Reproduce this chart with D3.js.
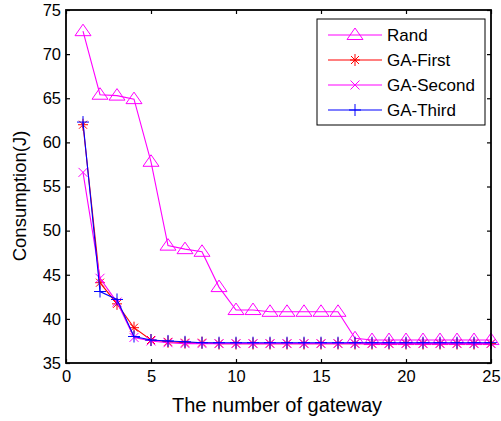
<!DOCTYPE html>
<html>
<head>
<meta charset="utf-8">
<script src="https://cdn.jsdelivr.net/npm/d3@7"></script>
<style>
body { margin: 0; background: #fff; }
text { font-family: "Liberation Sans", Arial, sans-serif; }
</style>
</head>
<body>
<svg id="chart" width="501" height="421"></svg>
<script>
// gateway count on the x axis
var gateways = d3.range(1, 26);
var rand = [72.6, 65.4, 65.3, 64.9, 57.8, 48.3, 47.9, 47.6, 43.6, 41.0, 41.0, 40.8, 40.8, 40.8, 40.8, 40.8,
    37.8, 37.6, 37.6, 37.6, 37.6, 37.6, 37.6, 37.6, 37.6];
var gaFirst = [62.0, 44.1, 41.7, 39.0, 37.6, 37.4, 37.3, 37.3, 37.2, 37.2, 37.2, 37.2, 37.2, 37.2, 37.2, 37.2,
    37.2, 37.2, 37.2, 37.2, 37.2, 37.2, 37.2, 37.2, 37.2];
var gaSecond = [56.6, 44.6, 41.9, 37.9, 37.5, 37.3, 37.2, 37.2, 37.2, 37.2, 37.2, 37.2, 37.2, 37.2, 37.2, 37.2,
    37.2, 37.2, 37.2, 37.2, 37.2, 37.2, 37.2, 37.2, 37.2];
var gaThird = [62.3, 43.1, 42.2, 38.0, 37.6, 37.5, 37.4, 37.3, 37.3, 37.3, 37.3, 37.3, 37.3, 37.3, 37.3, 37.3,
    37.3, 37.3, 37.3, 37.3, 37.3, 37.3, 37.3, 37.3, 37.3];
var xTicks = [0, 5, 10, 15, 20, 25];
var yTicks = [35, 40, 45, 50, 55, 60, 65, 70, 75];
var seriesNames = ["Rand", "GA-First", "GA-Second", "GA-Third"];

var series = [
    { name: seriesNames[0], values: rand, color: "#ff00ff", marker: "triangle" },
    { name: seriesNames[1], values: gaFirst, color: "#ff0000", marker: "star" },
    { name: seriesNames[2], values: gaSecond, color: "#ff00ff", marker: "cross" },
    { name: seriesNames[3], values: gaThird, color: "#0000ff", marker: "plus" }
];

var svg = d3.select("#chart");
var pLeft = 66, pRight = 491, pTop = 10, pBottom = 363;

var x = d3.scaleLinear().domain([0, 25]).range([pLeft, pRight]);
var y = d3.scaleLinear().domain([35, 75]).range([pBottom, pTop]);

// draw a marker path centred at 0,0
function markerPath(kind) {
    var p = d3.path();
    if (kind === "triangle") {
        p.moveTo(0, -7); p.lineTo(8, 4.5); p.lineTo(-8, 4.5); p.closePath();
    } else if (kind === "star") {
        p.moveTo(-5, 0); p.lineTo(5, 0);
        p.moveTo(0, -6); p.lineTo(0, 6);
        p.moveTo(-4, -4); p.lineTo(4, 4);
        p.moveTo(-4, 4); p.lineTo(4, -4);
    } else if (kind === "cross") {
        p.moveTo(-4.5, -4.5); p.lineTo(4.5, 4.5);
        p.moveTo(-4.5, 4.5); p.lineTo(4.5, -4.5);
    } else {
        p.moveTo(-6, 0); p.lineTo(6, 0);
        p.moveTo(0, -6); p.lineTo(0, 6);
    }
    return p.toString();
}

var line = d3.line()
    .x(function (d, i) { return x(gateways[i]); })
    .y(function (d) { return y(d); });

var plot = svg.append("g");

series.forEach(function (s) {
    var g = plot.append("g");
    g.append("path")
        .attr("d", line(s.values))
        .attr("fill", "none")
        .attr("stroke", s.color)
        .attr("stroke-width", 1.1);
    g.selectAll("path.mk")
        .data(s.values)
        .enter().append("path")
        .attr("class", "mk")
        .attr("transform", function (d, i) { return "translate(" + x(gateways[i]) + "," + y(d) + ")"; })
        .attr("d", markerPath(s.marker))
        .attr("fill", "none")
        .attr("stroke", s.color)
        .attr("stroke-width", 1);
});

// axes, MATLAB style box with inward ticks
var ax = svg.append("g");
ax.append("g").attr("transform", "translate(0," + pBottom + ")")
    .call(d3.axisBottom(x).tickValues(xTicks).tickSize(-4).tickPadding(7))
    .call(function (g) {
        g.select(".domain").remove();
        g.selectAll("text").attr("font-size", 16.5).attr("fill", "#000");
    });
ax.append("g").attr("transform", "translate(0," + pTop + ")")
    .call(d3.axisTop(x).tickValues(xTicks).tickSize(-4).tickFormat(""))
    .call(function (g) { g.select(".domain").remove(); });
ax.append("g").attr("transform", "translate(" + pLeft + ",0)")
    .call(d3.axisLeft(y).tickValues(yTicks).tickSize(-4).tickPadding(5))
    .call(function (g) {
        g.select(".domain").remove();
        g.selectAll("text").attr("font-size", 16.5).attr("fill", "#000");
    });
ax.append("g").attr("transform", "translate(" + pRight + ",0)")
    .call(d3.axisRight(y).tickValues(yTicks).tickSize(-4).tickFormat(""))
    .call(function (g) { g.select(".domain").remove(); });
ax.selectAll(".tick line").attr("stroke", "#000").attr("stroke-width", 1.2);

ax.append("rect")
    .attr("x", pLeft).attr("y", pTop)
    .attr("width", pRight - pLeft).attr("height", pBottom - pTop)
    .attr("fill", "none").attr("stroke", "#000").attr("stroke-width", 1.8);

svg.append("text")
    .attr("x", 277).attr("y", 412)
    .attr("text-anchor", "middle").attr("font-size", 20)
    .text("The number of gateway");

svg.append("text")
    .attr("transform", "translate(26,196) rotate(-90)")
    .attr("text-anchor", "middle").attr("font-size", 18.5)
    .text("Consumption(J)");

// legend
var legend = svg.append("g");
legend.append("rect")
    .attr("x", 317).attr("y", 19).attr("width", 168).attr("height", 106)
    .attr("fill", "#fff").attr("stroke", "#000").attr("stroke-width", 1);
var rowY = d3.scalePoint().domain(seriesNames).range([35, 110]);
series.forEach(function (s) {
    var ry = rowY(s.name);
    legend.append("line")
        .attr("x1", 328).attr("x2", 382).attr("y1", ry).attr("y2", ry)
        .attr("stroke", s.color).attr("stroke-width", 1.1);
    legend.append("path")
        .attr("transform", "translate(355," + ry + ")")
        .attr("d", markerPath(s.marker))
        .attr("fill", "none").attr("stroke", s.color);
    legend.append("text")
        .attr("x", 387).attr("y", ry + 6)
        .attr("font-size", 17)
        .text(s.name);
});
</script>
</body>
</html>
